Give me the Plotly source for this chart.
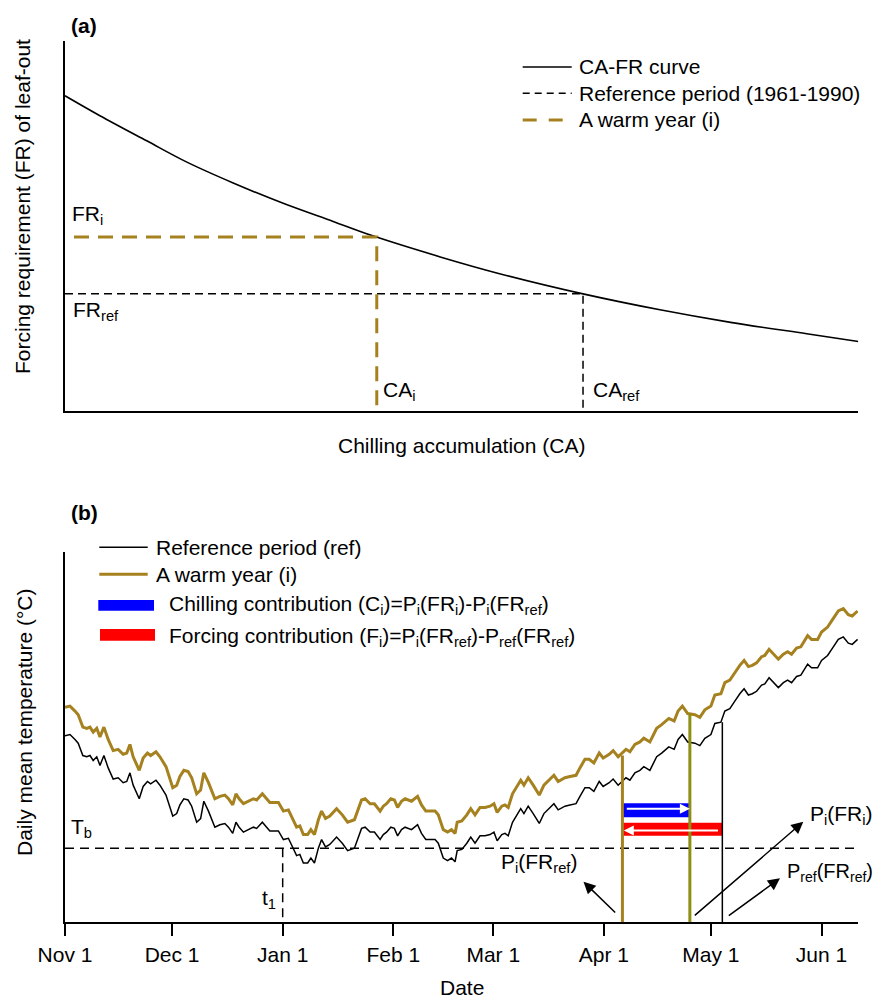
import plotly.graph_objects as go

FONT = "Liberation Sans, Arial, sans-serif"
FS = 21
GOLD = "#A6811F"
OLIVE = "#8E8E12"
W, H = 883, 1000
OFF = 8  # page body margin of the HTML page

# ---------------- Panel (a): CA-FR curve (arbitrary units 0-100) ----------------
ca_curve = [0, 4.4, 10.3, 15.3, 21.2, 27.5, 33.8, 38.8, 47.3, 54.9, 65.3, 75.0, 83.9, 93.5, 100]
fr_curve = [85.2, 79.8, 73.0, 67.3, 61.6, 56.1, 51.2, 47.3, 41.6, 37.0, 31.6, 27.3, 23.9, 20.8, 18.7]
CA_i, FR_i = 39.3, 47.0
CA_ref, FR_ref = 65.3, 31.6

# ---------------- Panel (b): daily mean temperature ----------------
# days since Nov 1
days = [0, 1.4, 2.8, 3.7, 5.0, 6.1, 7.0, 7.9, 8.9, 9.8,
        10.9, 12.1, 13.5, 14.9, 16.3, 17.3, 18.2, 19.1, 20.8, 21.9,
        23.1, 24.0, 25.5, 26.6, 28.3, 30.2, 31.3, 32.2, 33.3, 34.5,
        35.5, 36.9, 38.0, 38.9, 40.2, 42.0, 43.4, 44.8, 45.8, 47.0,
        47.9, 48.8, 50.0, 51.4, 52.8, 53.7, 55.3, 56.5, 57.4, 59.8,
        61.2, 62.6, 63.7, 64.9, 65.8, 66.8, 68.0, 68.9, 69.9, 71.0,
        71.9, 73.0, 74.2, 76.1, 77.7, 79.2, 81.1, 83.1, 84.1, 85.5,
        86.7, 88.3, 89.2, 90.1, 91.3, 92.3, 93.2, 94.3, 95.3, 97.1,
        98.8, 99.9, 101.1, 103.7, 104.6, 106.0, 107.2, 108.3, 109.3, 109.9,
        111.2, 112.6, 113.7, 114.9, 116.3, 117.7, 119.1, 120.2, 121.1, 122.4,
        123.3, 124.2, 125.4, 126.6, 127.7, 128.6, 129.8, 131.2, 132.9, 134.2,
        135.7, 137.0, 138.2, 140.1, 141.5, 143.2, 144.3, 145.7, 146.9, 148.2,
        149.7, 150.8, 152.5, 153.6, 155.0, 156.0, 157.2, 158.3, 159.7, 161.1,
        162.2, 163.9, 165.8, 167.2, 169.2, 170.7, 171.8, 173.0, 174.5, 176.5,
        177.9, 179.3, 181.0, 182.1, 183.8, 184.9, 186.3, 187.7, 189.1, 190.3,
        191.5, 192.6, 193.8, 195.2, 196.1, 197.3, 198.5, 199.9, 201.3, 202.5,
        203.6, 205.0, 206.2, 208.1, 209.2, 210.9, 212.0, 213.7, 215.3, 216.7,
        218.1, 219.5, 220.6, 222.1]

temp_ref = [15.1, 15.2, 14.8, 14.5, 13.5, 13.4, 13.5, 13.1, 13.4, 12.7,
            13.5, 12.5, 11.6, 11.7, 11.3, 11.4, 12.1, 11.1, 10.0, 11.0,
            11.4, 11.2, 11.5, 11.1, 10.3, 8.6, 8.8, 9.5, 10.0, 9.9,
            9.4, 8.1, 8.4, 9.8, 9.0, 7.7, 7.9, 8.0, 7.7, 7.2,
            8.1, 7.7, 7.3, 7.5, 7.7, 7.6, 8.1, 7.7, 7.4, 7.4,
            6.7, 6.8, 6.1, 5.4, 5.5, 4.8, 4.8, 5.2, 4.8, 6.0,
            6.7, 6.1, 6.3, 6.9, 6.4, 5.8, 6.0, 7.6, 7.7, 7.3,
            7.3, 6.7, 7.1, 7.3, 7.7, 7.6, 7.0, 7.5, 7.7, 7.5,
            7.9, 7.2, 6.7, 6.7, 6.4, 5.2, 5.0, 5.2, 4.9, 5.8,
            5.9, 6.4, 6.9, 6.4, 7.0, 7.0, 7.1, 7.3, 6.6, 7.1,
            7.2, 7.0, 8.1, 8.7, 9.2, 8.8, 9.4, 8.8, 8.0, 8.8,
            9.2, 9.6, 9.1, 9.4, 9.5, 9.6, 10.2, 10.9, 10.9, 10.6,
            11.4, 11.0, 11.3, 11.6, 11.1, 11.4, 11.7, 11.5, 12.1, 12.3,
            12.6, 12.3, 13.4, 13.7, 14.2, 14.0, 14.8, 15.2, 14.6, 14.5,
            14.3, 14.9, 15.2, 16.1, 16.2, 17.1, 17.3, 17.9, 18.5, 18.9,
            18.4, 18.5, 18.7, 19.2, 19.3, 19.8, 19.4, 19.0, 19.4, 19.6,
            19.4, 19.9, 20.0, 20.9, 20.6, 20.6, 21.2, 21.6, 22.3, 22.9,
            23.1, 22.6, 22.5, 22.9]

temp_warm = [17.4, 17.5, 17.1, 16.8, 15.8, 15.7, 15.8, 15.4, 15.7, 15.0,
             15.8, 14.8, 13.9, 14.0, 13.6, 13.7, 14.4, 13.4, 12.3, 13.3,
             13.7, 13.5, 13.8, 13.4, 12.6, 10.9, 11.1, 11.8, 12.3, 12.2,
             11.7, 10.4, 10.7, 12.1, 11.3, 10.0, 10.2, 10.3, 10.0, 9.5,
             10.4, 10.0, 9.6, 9.8, 10.0, 9.9, 10.4, 10.0, 9.7, 9.7,
             9.0, 9.1, 8.4, 7.7, 7.8, 7.1, 7.1, 7.5, 7.1, 8.3,
             9.0, 8.4, 8.6, 9.2, 8.7, 8.1, 8.3, 9.9, 10.0, 9.6,
             9.6, 9.0, 9.4, 9.6, 10.0, 9.9, 9.3, 9.8, 10.0, 9.8,
             10.2, 9.5, 9.0, 9.0, 8.7, 7.5, 7.3, 7.5, 7.2, 8.1,
             8.2, 8.7, 9.2, 8.7, 9.3, 9.3, 9.4, 9.6, 8.9, 9.4,
             9.5, 9.3, 10.4, 11.0, 11.5, 11.1, 11.7, 11.1, 10.3, 11.1,
             11.5, 11.9, 11.4, 11.7, 11.8, 11.9, 12.5, 13.2, 13.2, 12.9,
             13.7, 13.3, 13.6, 13.9, 13.4, 13.7, 14.0, 13.8, 14.4, 14.6,
             14.9, 14.6, 15.7, 16.0, 16.5, 16.3, 17.1, 17.5, 16.9, 16.8,
             16.6, 17.2, 17.5, 18.4, 18.5, 19.4, 19.6, 20.2, 20.8, 21.2,
             20.7, 20.8, 21.0, 21.5, 21.6, 22.1, 21.7, 21.3, 21.7, 21.9,
             21.7, 22.2, 22.3, 23.2, 22.9, 22.9, 23.5, 23.9, 24.6, 25.2,
             25.4, 24.9, 24.8, 25.2]

T_b = 6.0
t_1 = 61            # Jan 1
P_i_FRref = 156.2   # leaf-out date, warm year, reference forcing requirement
P_i_FRi = 175.1     # leaf-out date, warm year, own forcing requirement
P_ref_FRref = 184.2 # leaf-out date, reference period
top_i_FRref = 13.5
top_i_FRi = 16.9
top_ref_FRref = 16.2

tick_days = [0, 30, 61, 92, 120, 151, 181, 212]
tick_labels = ["Nov 1", "Dec 1", "Jan 1", "Feb 1", "Mar 1", "Apr 1", "May 1", "Jun 1"]
X_END = 222.3


def px(xp):
    return (xp - OFF) / W


def py(yp):
    return 1 - (yp - OFF) / H


fig = go.Figure()

# panel (a)
fig.add_trace(go.Scatter(x=ca_curve, y=fr_curve, mode="lines",
                         line=dict(color="black", width=1.6, shape="spline"),
                         xaxis="x", yaxis="y", hoverinfo="skip"))
fig.add_trace(go.Scatter(x=[0, CA_ref, CA_ref], y=[FR_ref, FR_ref, 0], mode="lines",
                         line=dict(color="black", width=1.5, dash="8px,5px"),
                         xaxis="x", yaxis="y"))
fig.add_trace(go.Scatter(x=[0, CA_i, CA_i], y=[FR_i, FR_i, 0], mode="lines",
                         line=dict(color=GOLD, width=3, dash="0px,9px,15px,0px"),
                         xaxis="x", yaxis="y"))

# panel (b)
fig.add_trace(go.Scatter(x=[0, days[-1]], y=[T_b, T_b], mode="lines",
                         line=dict(color="black", width=1.5, dash="9px,6px"),
                         xaxis="x2", yaxis="y2"))
fig.add_trace(go.Scatter(x=[t_1, t_1], y=[T_b, 0], mode="lines",
                         line=dict(color="black", width=1.5, dash="9px,6px"),
                         xaxis="x2", yaxis="y2"))
fig.add_trace(go.Scatter(x=days, y=temp_ref, mode="lines",
                         line=dict(color="black", width=1.5),
                         xaxis="x2", yaxis="y2"))
fig.add_trace(go.Scatter(x=days, y=temp_warm, mode="lines",
                         line=dict(color=GOLD, width=3),
                         xaxis="x2", yaxis="y2"))

shapes = []
# legend (a)
shapes.append(dict(type="line", xref="paper", yref="paper", x0=px(522.7), x1=px(571.7),
                   y0=py(67), y1=py(67), line=dict(color="black", width=1.6)))
shapes.append(dict(type="line", xref="paper", yref="paper", x0=px(522.7), x1=px(571.7),
                   y0=py(93.3), y1=py(93.3), line=dict(color="black", width=1.5, dash="7px,5px")))
shapes.append(dict(type="line", xref="paper", yref="paper", x0=px(522.7), x1=px(571.7),
                   y0=py(120), y1=py(120), line=dict(color=GOLD, width=3, dash="14px,12px")))
# legend (b)
shapes.append(dict(type="line", xref="paper", yref="paper", x0=px(99.3), x1=px(147.7),
                   y0=py(547.3), y1=py(547.3), line=dict(color="black", width=1.5)))
shapes.append(dict(type="line", xref="paper", yref="paper", x0=px(99.3), x1=px(147.7),
                   y0=py(574.3), y1=py(574.3), line=dict(color=GOLD, width=3)))
shapes.append(dict(type="rect", xref="paper", yref="paper", x0=px(98.3), x1=px(154),
                   y0=py(610.7), y1=py(600), fillcolor="#0000FF", line=dict(width=0)))
shapes.append(dict(type="rect", xref="paper", yref="paper", x0=px(100), x1=px(155),
                   y0=py(640.7), y1=py(629), fillcolor="#FF0000", line=dict(width=0)))
# contribution bars
shapes.append(dict(type="rect", xref="x2", yref="paper", x0=P_i_FRref, x1=P_i_FRi,
                   y0=py(817.3), y1=py(803.3), fillcolor="#0000FF", line=dict(width=0)))
shapes.append(dict(type="rect", xref="x2", yref="paper", x0=P_i_FRref, x1=P_ref_FRref,
                   y0=py(835.7), y1=py(822.7), fillcolor="#FF0000", line=dict(width=0)))
# leaf-out date lines
shapes.append(dict(type="line", xref="x2", yref="y2", x0=P_i_FRref, x1=P_i_FRref,
                   y0=0, y1=top_i_FRref, line=dict(color=GOLD, width=3)))
shapes.append(dict(type="line", xref="x2", yref="y2", x0=P_i_FRi, x1=P_i_FRi,
                   y0=0, y1=top_i_FRi, line=dict(color=OLIVE, width=3)))
shapes.append(dict(type="line", xref="x2", yref="y2", x0=P_ref_FRref, x1=P_ref_FRref,
                   y0=0, y1=top_ref_FRref, line=dict(color="black", width=1.5)))

fnt = dict(family=FONT, size=FS, color="black")
ann = []


def text(x, y, s, xanchor="left", yanchor="middle", angle=0, bold=False, size=FS, pad=1):
    f = dict(fnt)
    f["size"] = size
    if bold:
        f["weight"] = "bold"
    ann.append(dict(xref="paper", yref="paper", x=x, y=y, text=s, showarrow=False,
                    xanchor=xanchor, yanchor=yanchor, textangle=angle, font=f, borderpad=pad))


# panel (a) text
text(px(69), py(25), "(a)", bold=True)
text(px(22), py(207), "Forcing requirement (FR) of leaf-out", xanchor="center", angle=-90)
text(px(461.5), py(445), "Chilling accumulation (CA)", xanchor="center")
text(px(70), py(215), "FR<sub>i</sub>")
text(px(71), py(311), "FR<sub>ref</sub>")
text(px(381), py(390.5), "CA<sub>i</sub>")
text(px(591), py(390.5), "CA<sub>ref</sub>")
text(px(577), py(67), "CA-FR curve")
text(px(577), py(93.3), "Reference period (1961-1990)")
text(px(577), py(120), "A warm year (i)")

# panel (b) text
text(px(69), py(512.7), "(b)", bold=True)
text(px(154), py(547.3), "Reference period (ref)")
text(px(154), py(574.3), "A warm year (i)")
text(px(167), py(605), "Chilling contribution (C<sub>i</sub>)=P<sub>i</sub>(FR<sub>i</sub>)-P<sub>i</sub>(FR<sub>ref</sub>)")
text(px(167), py(636.5), "Forcing contribution (F<sub>i</sub>)=P<sub>i</sub>(FR<sub>ref</sub>)-P<sub>ref</sub>(FR<sub>ref</sub>)")
text(px(24.5), py(722.5), "Daily mean temperature (°C)", xanchor="center", angle=-90)
text(px(461.5), py(999.5), "Date", xanchor="center", yanchor="bottom", pad=0)
text(px(69), py(828), "T<sub>b</sub>")
text(px(278), py(899), "t<sub>1</sub>", xanchor="right")
text(px(499), py(863), "P<sub>i</sub>(FR<sub>ref</sub>)")
text(px(808), py(815), "P<sub>i</sub>(FR<sub>i</sub>)")
text(px(786), py(872), "P<sub>ref</sub>(FR<sub>ref</sub>)", size=20, pad=0)

# black arrows (head position, tail offset in pixels)
for hx, hy, dx, dy in [(583.5, 881.7, 33.2, 32.3), (803.3, 821.7, -110, 95), (780, 878.3, -52.7, 38.4)]:
    ann.append(dict(xref="paper", yref="paper", x=px(hx), y=py(hy), ax=dx, ay=dy,
                    axref="pixel", ayref="pixel", text="", showarrow=True,
                    arrowhead=2, arrowsize=1.6, arrowwidth=1.5, arrowcolor="black"))
# white arrows inside the bars
ann.append(dict(xref="x2", yref="paper", x=P_i_FRi, y=py(808.8), axref="x2", ax=P_i_FRref + 0.8,
                ayref="pixel", ay=0, text="", showarrow=True, arrowhead=2, arrowsize=1.0,
                arrowwidth=2, arrowcolor="white"))
ann.append(dict(xref="x2", yref="paper", x=P_i_FRref + 0.4, y=py(830.5), axref="x2", ax=P_ref_FRref - 0.8,
                ayref="pixel", ay=0, text="", showarrow=True, arrowhead=2, arrowsize=1.0,
                arrowwidth=2, arrowcolor="white"))

axis_common = dict(showline=True, linecolor="black", linewidth=2, showgrid=False,
                   zeroline=False, fixedrange=True, automargin=False)

fig.update_layout(
    template="none",
    width=W, height=H,
    margin=dict(l=0, r=0, t=0, b=0, pad=0, autoexpand=False),
    paper_bgcolor="white", plot_bgcolor="white",
    showlegend=False,
    font=fnt,
    xaxis=dict(domain=[px(65), px(858.3)], range=[0, 100], anchor="y",
               showticklabels=False, ticks="", **axis_common),
    yaxis=dict(domain=[py(410.7), py(41)], range=[0, 100], anchor="x",
               showticklabels=False, ticks="", **axis_common),
    xaxis2=dict(domain=[px(65), px(858.3)], range=[0, X_END], anchor="y2",
                tickmode="array", tickvals=tick_days, ticktext=tick_labels,
                ticks="outside", ticklen=12, tickwidth=2, tickcolor="black",
                tickfont=dict(family=FONT, size=FS, color="black"), **axis_common),
    yaxis2=dict(domain=[py(922.3), py(551.7)], range=[0, 30], anchor="x2",
                showticklabels=False, ticks="", **axis_common),
    shapes=shapes,
    annotations=ann,
)

fig.write_html("out.html")
